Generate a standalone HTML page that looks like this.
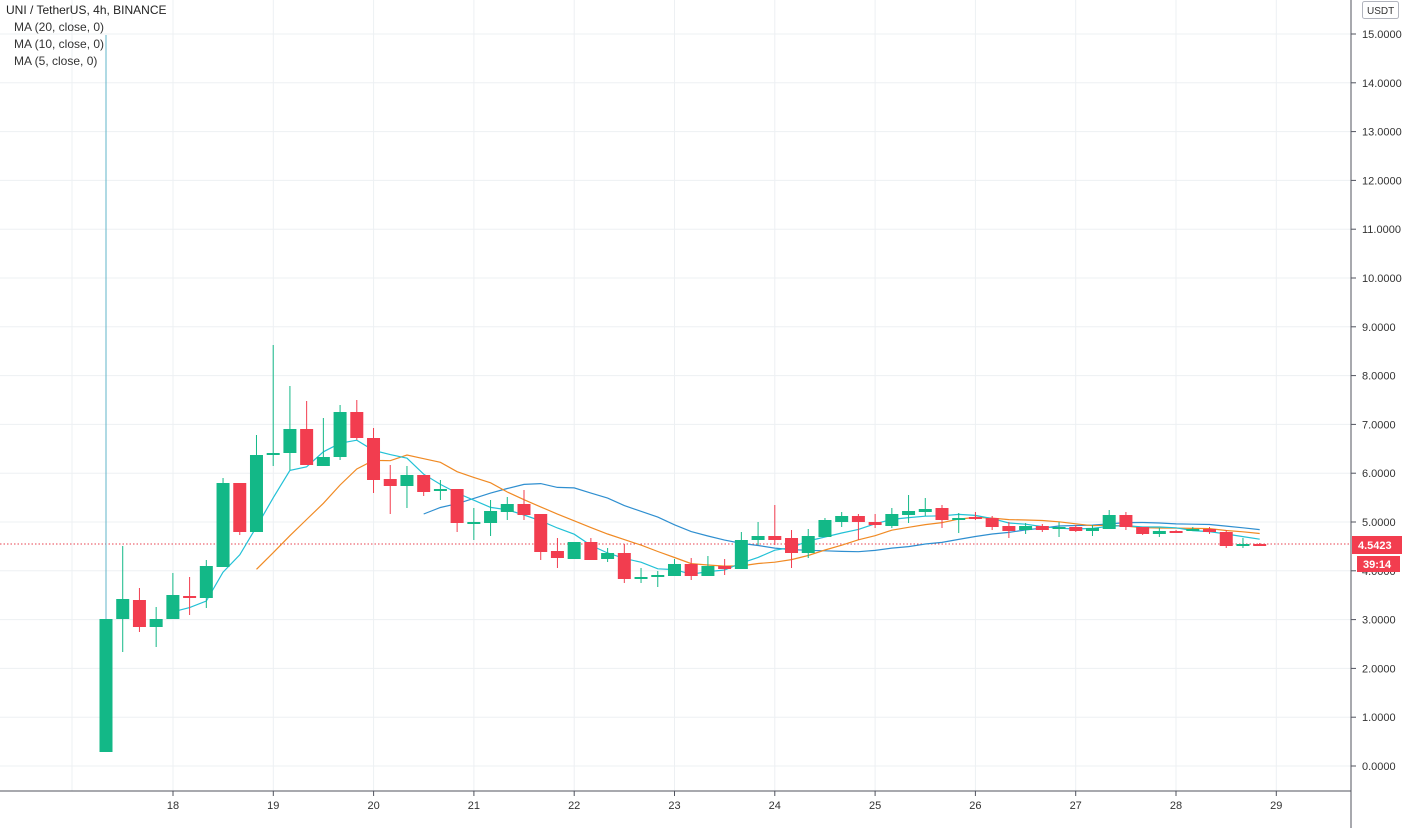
<!DOCTYPE html>
<html><head><meta charset="utf-8"><style>
html,body{margin:0;padding:0;background:#fff;}
svg{display:block;font-family:"Liberation Sans",sans-serif;}
</style></head><body>
<svg id="s" width="1414" height="828" viewBox="0 0 1414 828" xmlns="http://www.w3.org/2000/svg"></svg>
<script>
const C=[
[752,619,35,752],[619,599,546,652],[600,627,588,632],[627,619,607,647],[619,595,573,619],
[596,598,577,615],[598,566,560,608],[567,483,478,567],[483,532,483,535],[532,455,435,532],
[455,453,345,466],[453,429,386,470],[429,465,401,465],[466,457,418,466],[457,412,405,460],
[412,438,400,440],[438,480,428,493],[479,486,465,514],[486,475,466,508],[475,492,475,496],
[491,489,480,500],[489,523,489,532],[523,522,508,540],[523,511,500,536],[512,504,497,520],
[504,515,490,520],[514,552,514,560],[551,558,538,568],[559,542,542,558],[542,560,538,560],
[559,553,548,562],[553,579,544,583],[579,577,568,583],[577,575,571,587],[576,564,559,576],
[564,576,558,580],[576,566,556,576],[566,569,559,575],[569,540,532,569],[540,536,522,545],
[536,540,505,545],[538,553,530,568],[553,536,529,558],[537,520,518,537],[522,516,512,527],
[516,522,514,540],[522,525,514,528],[526,514,508,528],[515,511,495,523],[512,509,498,516],
[508,520,505,528],[520,518,513,533],[517,519,512,520],[518,527,516,530],[526,531,522,538],
[530,526,523,534],[526,530,524,532],[529,527,522,537],[527,531,525,532],[531,528,525,536],
[529,515,510,529],[515,527,512,530],[527,534,527,535],[534,531,528,537],[531,532,530,533],
[531,529,527,531],[529,532,527,534],[532,546,530,548],[546,544,538,548],[544,545,543,545]];
let h='';
const py=p=>766-48.8*p;
for(let p=0;p<=15;p++){h+=`<line x1="0" x2="1351" y1="${py(p)}" y2="${py(p)}" stroke="#edf0f3"/>`;}
for(let d=18;d<=29;d++){const x=173+100.3*(d-18);h+=`<line x1="${x}" x2="${x}" y1="0" y2="791" stroke="#edf0f3"/>`;}
h+=`<line x1="72" x2="72" y1="0" y2="791" stroke="#edf0f3"/>`;
const cx=i=>106+16.72*i;
h+=`<line x1="0" x2="1351" y1="544" y2="544" stroke="#e8414f" stroke-dasharray="1.5,2"/>`;
function ma(n,col){let pts=[];for(let i=n-1;i<C.length;i++){let s=0;for(let k=0;k<n;k++)s+=C[i-k][1];pts.push(cx(i).toFixed(1)+','+(s/n).toFixed(1));}
h+=`<polyline points="${pts.join(' ')}" fill="none" stroke="${col}" stroke-width="1.2"/>`;}
ma(20,'#2f8fd0');ma(10,'#f08a24');ma(5,'#22c1d6');
C.forEach((c,i)=>{const x=cx(i),up=c[1]<=c[0],col=up?'#13b887':'#f23d4f';
const t=Math.min(c[0],c[1]),b=Math.max(c[0],c[1]);
const wc=i==0?'#62b5c8':col;
h+=`<line x1="${x}" x2="${x}" y1="${c[2]}" y2="${c[3]}" stroke="${wc}" stroke-width="1"/>`;
h+=`<rect x="${x-6.5}" y="${t}" width="13" height="${Math.max(b-t,2)}" fill="${col}"/>`;});
h+=`<line x1="1351" x2="1351" y1="0" y2="828" stroke="#50535e"/>`;
h+=`<line x1="0" x2="1351" y1="791" y2="791" stroke="#50535e"/>`;
for(let p=0;p<=15;p++){const y=py(p);h+=`<line x1="1351" x2="1356" y1="${y}" y2="${y}" stroke="#50535e"/><text x="1362" y="${y+4}" font-size="11" fill="#333">${p.toFixed(4)}</text>`;}
for(let d=18;d<=29;d++){const x=173+100.3*(d-18);h+=`<line x1="${x}" x2="${x}" y1="791" y2="796" stroke="#50535e"/><text x="${x}" y="809" font-size="11" fill="#333" text-anchor="middle">${d}</text>`;}
h+=`<rect x="1352" y="536" width="50" height="18" fill="#f23d4f"/><text x="1358" y="549" font-size="11" font-weight="bold" fill="#fff">4.5423</text>`;
h+=`<rect x="1357" y="556" width="43" height="16" fill="#f23d4f"/><text x="1363" y="568" font-size="11" font-weight="bold" fill="#fff">39:14</text>`;
h+=`<rect x="1362.5" y="1.5" width="36" height="17" rx="2" fill="#fff" stroke="#b2b5be"/><text x="1367" y="14" font-size="10" fill="#333">USDT</text>`;
h+=`<text x="6" y="14" font-size="12" fill="#222">UNI / TetherUS, 4h, BINANCE</text>`;
['MA (20, close, 0)','MA (10, close, 0)','MA (5, close, 0)'].forEach((t,i)=>h+=`<text x="14" y="${31+17*i}" font-size="12" fill="#333">${t}</text>`);
document.getElementById('s').innerHTML=h;
</script>
</body></html>
